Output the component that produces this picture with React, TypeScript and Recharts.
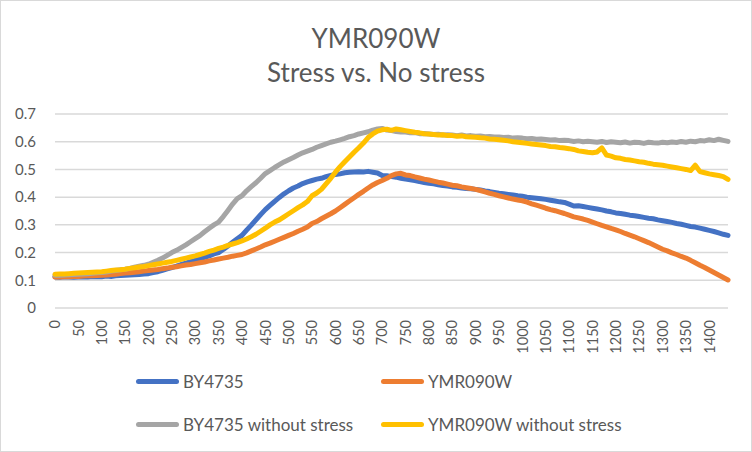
import React from "react";
import { LineChart, Line, XAxis, YAxis, CartesianGrid } from "recharts";

// OD readings every 10 minutes, 0..1440
const STEP = 10;

const by4735 = [
  0.112, 0.111, 0.113, 0.112, 0.111, 0.112, 0.113, 0.112, 0.114, 0.113,
  0.113, 0.115, 0.114, 0.116, 0.117, 0.118, 0.119, 0.12, 0.121, 0.123,
  0.124, 0.128, 0.131, 0.136, 0.141, 0.146, 0.151, 0.157, 0.162, 0.167,
  0.172, 0.177, 0.183, 0.188, 0.195, 0.2, 0.211, 0.224, 0.237, 0.25,
  0.262, 0.281, 0.299, 0.318, 0.337, 0.355, 0.37, 0.385, 0.399, 0.412,
  0.423, 0.433, 0.44, 0.449, 0.455, 0.46, 0.465, 0.468, 0.474, 0.478,
  0.482, 0.484, 0.488, 0.49, 0.491, 0.492, 0.491, 0.493, 0.49, 0.487,
  0.478, 0.477, 0.474, 0.472, 0.468, 0.465, 0.463, 0.46, 0.456, 0.453,
  0.45, 0.448, 0.445, 0.442, 0.44, 0.437, 0.436, 0.433, 0.431, 0.43,
  0.428, 0.426, 0.422, 0.42, 0.417, 0.414, 0.412, 0.41, 0.408, 0.405,
  0.403, 0.4, 0.398, 0.396, 0.394, 0.392, 0.389, 0.386, 0.383, 0.381,
  0.375, 0.368, 0.369, 0.366, 0.363, 0.36, 0.357, 0.354, 0.35, 0.347,
  0.343, 0.341, 0.338, 0.335, 0.333, 0.33, 0.327, 0.324, 0.322, 0.318,
  0.315, 0.312, 0.309, 0.305, 0.302, 0.298, 0.294, 0.292, 0.288, 0.284,
  0.28, 0.276, 0.271, 0.266, 0.262,
];

const ymr090w = [
  0.112, 0.112, 0.113, 0.113, 0.114, 0.114, 0.115, 0.116, 0.116, 0.117,
  0.118, 0.119, 0.121, 0.122, 0.124, 0.126, 0.127, 0.129, 0.131, 0.133,
  0.135, 0.137, 0.139, 0.142, 0.144, 0.147, 0.149, 0.152, 0.155, 0.157,
  0.16, 0.163, 0.166, 0.17, 0.173, 0.177, 0.18, 0.183, 0.187, 0.19,
  0.193, 0.199, 0.206, 0.213, 0.22, 0.228, 0.234, 0.241, 0.248, 0.255,
  0.262, 0.269, 0.277, 0.284, 0.292, 0.305, 0.312, 0.322, 0.331, 0.34,
  0.35, 0.362, 0.374, 0.386, 0.398, 0.41, 0.421, 0.433, 0.444, 0.453,
  0.46, 0.468, 0.478, 0.484, 0.486, 0.48, 0.478, 0.473, 0.469, 0.465,
  0.462, 0.458, 0.454, 0.451, 0.447, 0.443, 0.441, 0.437, 0.434, 0.431,
  0.428, 0.424, 0.419, 0.414, 0.41, 0.405, 0.401, 0.397, 0.393, 0.39,
  0.387, 0.382, 0.376, 0.371, 0.366, 0.36, 0.355, 0.351, 0.346, 0.341,
  0.335, 0.329, 0.325, 0.321, 0.316, 0.31, 0.304, 0.298, 0.293, 0.287,
  0.282, 0.276, 0.269, 0.263, 0.257, 0.25, 0.243, 0.236, 0.228, 0.22,
  0.212, 0.206, 0.199, 0.193, 0.186, 0.18, 0.172, 0.163, 0.154, 0.146,
  0.137, 0.128, 0.119, 0.11, 0.101,
];

const by4735NoStress = [
  0.118, 0.118, 0.119, 0.12, 0.121, 0.122, 0.123, 0.124, 0.125, 0.127,
  0.128, 0.13, 0.133, 0.135, 0.138, 0.14, 0.143, 0.147, 0.151, 0.154,
  0.158, 0.165, 0.172, 0.18, 0.19, 0.2, 0.208, 0.218, 0.228, 0.239,
  0.25, 0.261, 0.275, 0.288, 0.3, 0.31, 0.33, 0.352, 0.375, 0.395,
  0.405, 0.423, 0.438, 0.452, 0.468, 0.485, 0.496, 0.507, 0.517, 0.527,
  0.535, 0.543, 0.552, 0.56, 0.566, 0.572, 0.58, 0.586, 0.592, 0.598,
  0.602, 0.607, 0.612, 0.618, 0.622, 0.628, 0.632, 0.636, 0.642, 0.646,
  0.648, 0.642, 0.64, 0.637, 0.635, 0.635, 0.632, 0.633, 0.629, 0.63,
  0.628, 0.626, 0.627, 0.624, 0.625, 0.624, 0.622, 0.624, 0.621, 0.622,
  0.62, 0.621, 0.618, 0.619, 0.617, 0.617, 0.615, 0.616, 0.613, 0.614,
  0.613, 0.611, 0.612, 0.609, 0.61, 0.608, 0.606, 0.607, 0.604, 0.605,
  0.604, 0.601, 0.603, 0.6, 0.602, 0.6, 0.598, 0.601, 0.597, 0.6,
  0.598, 0.596, 0.599, 0.595, 0.598, 0.597, 0.594, 0.598, 0.596, 0.595,
  0.598, 0.596, 0.599, 0.597, 0.601, 0.598, 0.602, 0.6, 0.604, 0.603,
  0.607, 0.604, 0.609, 0.605, 0.601,
];

const ymr090wNoStress = [
  0.122, 0.123, 0.123, 0.124, 0.125, 0.126, 0.127, 0.128, 0.129, 0.13,
  0.131, 0.133, 0.135, 0.137, 0.138, 0.14, 0.143, 0.145, 0.148, 0.15,
  0.153, 0.156, 0.159, 0.162, 0.165, 0.168, 0.172, 0.176, 0.18, 0.184,
  0.188, 0.193, 0.198, 0.204, 0.209, 0.215, 0.22, 0.226, 0.231, 0.236,
  0.242, 0.249, 0.257, 0.266, 0.277, 0.288, 0.3, 0.31, 0.318, 0.329,
  0.34, 0.351, 0.362, 0.372, 0.384, 0.405, 0.415, 0.428, 0.448, 0.468,
  0.49, 0.51, 0.528, 0.545, 0.562, 0.578, 0.595, 0.615, 0.628, 0.638,
  0.643, 0.645, 0.641, 0.646, 0.643, 0.64, 0.637, 0.634, 0.632, 0.629,
  0.628, 0.626, 0.624, 0.625, 0.622, 0.622, 0.62, 0.621, 0.618, 0.617,
  0.616, 0.614, 0.613, 0.61, 0.609, 0.607, 0.605, 0.603, 0.6, 0.598,
  0.596, 0.594, 0.592, 0.59, 0.588, 0.586, 0.583, 0.582, 0.579, 0.577,
  0.575, 0.572, 0.567, 0.565, 0.562, 0.56, 0.563, 0.578, 0.552, 0.548,
  0.542, 0.54, 0.536, 0.534, 0.531, 0.528, 0.526, 0.522, 0.519, 0.517,
  0.515, 0.512, 0.509, 0.506, 0.503, 0.5, 0.496, 0.515, 0.492, 0.488,
  0.484, 0.481, 0.478, 0.474, 0.464,
];

const xTicks = [
  0, 50, 100, 150, 200, 250, 300, 350, 400, 450, 500, 550, 600, 650, 700,
  750, 800, 850, 900, 950, 1000, 1050, 1100, 1150, 1200, 1250, 1300, 1350, 1400,
];
const yTicks = [0, 0.1, 0.2, 0.3, 0.4, 0.5, 0.6, 0.7];

const series = [
  { key: "a", name: "BY4735", color: "#4472C4", values: by4735 },
  { key: "b", name: "YMR090W", color: "#ED7D31", values: ymr090w },
  { key: "c", name: "BY4735 without stress", color: "#A5A5A5", values: by4735NoStress },
  { key: "d", name: "YMR090W without stress", color: "#FFC000", values: ymr090wNoStress },
];

// legend slot positions (left of the swatch, vertical centre)
const legendPos = [
  { left: 136, top: 381 },
  { left: 381, top: 381 },
  { left: 136, top: 424 },
  { left: 381, top: 424 },
];

const rows = by4735.map((_, i) => {
  const r: Record<string, number> = { t: i * STEP };
  series.forEach(s => { r[s.key] = s.values[i]; });
  return r;
});

const FONT = "Lato, 'Open Sans', sans-serif";
const TEXT = "#595959";

const XTick = (props: any) => {
  const { x, y, payload } = props;
  return (
    <g transform={`translate(${x},${y})`}>
      <text transform="rotate(-90)" textAnchor="end" dy="0.36em"
        fill={TEXT} fontSize={14.5} fontFamily={FONT}>
        {payload.value}
      </text>
    </g>
  );
};

export default function App() {
  return (
    <div style={{ position: "fixed", left: 0, top: 0, width: 752, height: 452, background: "#fff", fontFamily: FONT }}>
      <div style={{ position: "absolute", left: 0, right: 0, top: 24, textAlign: "center", color: TEXT, fontSize: 26, lineHeight: "28px" }}>
        YMR090W
      </div>
      <div style={{ position: "absolute", left: 0, right: 0, top: 58, textAlign: "center", color: TEXT, fontSize: 26, lineHeight: "28px" }}>
        Stress vs. No stress
      </div>
      <div style={{ position: "absolute", left: 0, top: 0 }}>
        <LineChart width={752} height={452} data={rows}
          margin={{ top: 114, right: 24, bottom: 40, left: 15 }}>
          <CartesianGrid stroke="#D9D9D9" strokeWidth={1.5} vertical={false} />
          <XAxis dataKey="t" type="number" domain={[0, 1440]} ticks={xTicks} interval={0}
            axisLine={false} tickLine={false} tickMargin={6} height={104} tick={<XTick />} />
          <YAxis domain={[0, 0.7]} ticks={yTicks} interval={0} width={40}
            axisLine={false} tickLine={false} tickMargin={13}
            tickFormatter={(v: number) => (v === 0 ? "0" : v.toFixed(1))}
            tick={{ fill: TEXT, fontSize: 15, fontFamily: FONT }} />
          {series.map(s => (
            <Line key={s.key} type="linear" dataKey={s.key} name={s.name} stroke={s.color}
              strokeWidth={5} strokeLinecap="round" strokeLinejoin="round"
              dot={false} activeDot={false} isAnimationActive={false} />
          ))}
        </LineChart>
      </div>
      {series.map((s, i) => (
        <div key={s.key} style={{ position: "absolute", left: legendPos[i].left, top: legendPos[i].top - 12, height: 24, display: "flex", alignItems: "center" }}>
          <span style={{ display: "inline-block", width: 43, height: 5, borderRadius: 3, background: s.color, marginRight: 4 }} />
          <span style={{ color: TEXT, fontSize: 17, whiteSpace: "nowrap" }}>{s.name}</span>
        </div>
      ))}
      <div style={{ position: "absolute", inset: 0, border: "1px solid #D9D9D9", pointerEvents: "none" }} />
    </div>
  );
}
